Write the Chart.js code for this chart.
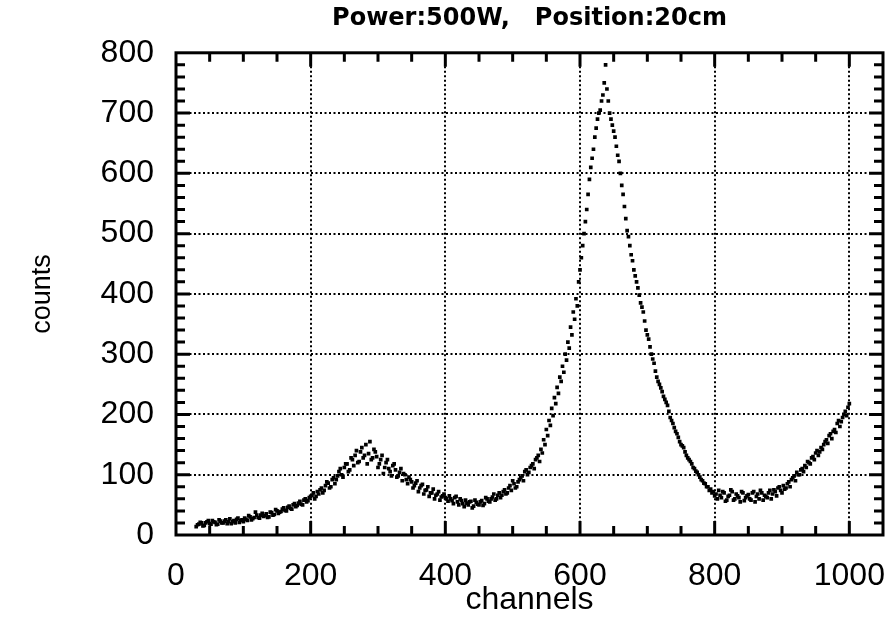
<!DOCTYPE html>
<html>
<head>
<meta charset="utf-8">
<title>Power:500W, Position:20cm</title>
<script src="https://cdn.jsdelivr.net/npm/chart.js@4/dist/chart.umd.min.js"></script>
<style>
    html, body { margin: 0; padding: 0; background: #fff; }
</style>
</head>
<body>
<canvas id="spectrumChart" width="887" height="619"></canvas>
<script>
// two interleaved readings: channels 30,34,... and 32,36,...
const firstChannel = 30;
const channelStep = 4;
const countsEven = [
    14, 18, 20, 16, 22, 19, 24, 21, 18, 23, 20, 25, 22, 19, 24, 26, 21, 25,
    28, 24, 30, 27, 38, 29, 33, 31, 35, 30, 37, 34, 40, 38, 43, 41, 46, 44, 50, 47, 53, 51, 58, 55, 62,
    66, 60, 72, 75, 70, 82, 86, 80, 95, 92, 105, 100, 112, 118, 108, 125, 132, 120, 138, 128, 150, 135, 125, 142, 130,
    118, 132, 112, 125, 105, 115, 108, 98, 110, 102, 92, 96, 88, 82, 90, 78, 84, 74, 80, 70, 76, 66, 72, 63, 68,
    60, 65, 57, 62, 55, 60, 52, 58, 50, 56, 48, 54, 50, 57, 52, 60, 55, 63, 58, 66, 62, 72, 68, 78, 74,
    85, 80, 92, 98, 105, 100, 112, 118, 125, 132, 142, 158, 175, 190, 210, 228, 245, 262, 280, 300, 320, 345, 370, 392, 420,
    460, 500, 540, 590, 625, 660, 690, 705, 730, 780, 720, 690, 670, 645, 620, 580, 545, 505, 480, 455, 430, 410, 385, 370, 340,
    325, 300, 285, 262, 250, 238, 225, 215, 195, 185, 172, 162, 150, 145, 132, 125, 118, 110, 104, 96, 90, 85, 80, 76, 72,
    68, 74, 62, 70, 58, 66, 72, 60, 65, 55, 70, 62, 67, 58, 72, 64, 60, 70, 66, 62, 74, 68, 72, 78, 74,
    82, 78, 88, 92, 98, 104, 100, 110, 115, 122, 118, 130, 136, 132, 145, 150, 158, 165, 160, 175, 185, 180, 195, 205, 212
];
const countsOdd = [
    17, 21, 15, 20, 24, 18, 22, 17, 25, 20, 23, 19, 27, 22, 20, 28, 24, 22,
    26, 32, 25, 29, 33, 28, 36, 32, 29, 38, 33, 42, 36, 39, 45, 40, 48, 43, 52, 49, 56, 50, 60, 57, 64,
    70, 64, 68, 78, 74, 88, 78, 92, 85, 98, 110, 96, 118, 105, 128, 115, 140, 122, 145, 132, 118, 155, 128, 138, 112,
    125, 102, 120, 110, 98, 118, 96, 104, 90, 100, 85, 92, 78, 86, 72, 82, 68, 75, 64, 70, 60, 68, 58, 65, 62,
    56, 60, 52, 64, 50, 57, 47, 53, 55, 45, 58, 51, 55, 49, 62, 56, 60, 68, 60, 70, 66, 75, 70, 82, 90,
    78, 88, 95, 90, 108, 104, 115, 110, 128, 122, 136, 150, 165, 182, 198, 218, 235, 255, 270, 290, 310, 332, 358, 380, 440,
    480, 520, 565, 610, 640, 675, 700, 720, 750, 740, 700, 680, 660, 630, 600, 565, 525, 495, 465, 440, 420, 398, 378, 355, 332,
    312, 292, 272, 255, 244, 230, 220, 205, 190, 178, 168, 155, 148, 138, 128, 122, 112, 106, 100, 92, 86, 80, 74, 70, 65,
    60, 66, 72, 56, 64, 75, 58, 68, 62, 72, 57, 65, 60, 70, 55, 68, 74, 58, 64, 70, 60, 75, 65, 80, 70,
    76, 85, 80, 95, 90, 100, 108, 105, 112, 120, 128, 125, 140, 138, 142, 155, 152, 168, 172, 170, 190, 188, 200, 198, 218
];
const xTickValues = [0, 200, 400, 600, 800, 1000];
const yTickValues = [0, 100, 200, 300, 400, 500, 600, 700, 800];

const points = [];
countsEven.forEach((c, i) => points.push({ x: firstChannel + i * channelStep, y: c }));
countsOdd.forEach((c, i) => points.push({ x: firstChannel + 2 + i * channelStep, y: c }));

const tickFont = { family: "'Liberation Sans', Arial, sans-serif", size: 32 };

// inward major/minor ticks and the heavy frame
const frameTicks = {
    id: 'frameTicks',
    afterDraw(chart) {
        const ctx = chart.ctx;
        const a = chart.chartArea;
        const x = chart.scales.x, y = chart.scales.y;
        ctx.save();
        ctx.strokeStyle = '#000';
        ctx.lineWidth = 3;
        ctx.beginPath();
        for (let v = 50; v < x.max; v += 50) {
            const px = x.getPixelForValue(v);
            const len = v % 200 === 0 ? 14 : 9;
            ctx.moveTo(px, a.bottom); ctx.lineTo(px, a.bottom - len);
            ctx.moveTo(px, a.top); ctx.lineTo(px, a.top + len);
        }
        for (let v = 20; v < y.max; v += 20) {
            const py = y.getPixelForValue(v);
            const len = v % 100 === 0 ? 14 : 9;
            ctx.moveTo(a.left, py); ctx.lineTo(a.left + len, py);
            ctx.moveTo(a.right, py); ctx.lineTo(a.right - len, py);
        }
        ctx.stroke();
        ctx.strokeRect(a.left, a.top, a.right - a.left, a.bottom - a.top);
        ctx.restore();
    }
};

const ctx = document.getElementById('spectrumChart').getContext('2d');
const spectrumChart = new Chart(ctx, {
    type: 'scatter',
    data: {
        datasets: [{
            data: points,
            pointStyle: 'rect',
            pointRadius: 2.6,
            pointBorderWidth: 0,
            backgroundColor: '#000',
            borderColor: '#000',
            showLine: false
        }]
    },
    options: {
        responsive: false,
        animation: false,
        layout: { padding: { left: 0, right: 3, top: 0, bottom: 0 } },
        plugins: {
            legend: { display: false },
            tooltip: { enabled: false },
            title: {
                display: true,
                text: 'Power:500W,   Position:20cm',
                fullSize: false,
                color: '#000',
                font: { family: "'DejaVu Sans', Arial, sans-serif", size: 24, weight: 'bold' },
                padding: { top: 4, bottom: 20 }
            }
        },
        scales: {
            x: {
                type: 'linear',
                min: 0,
                max: 1050,
                afterBuildTicks: (scale) => { scale.ticks = xTickValues.map(v => ({ value: v })); },
                afterFit: (scale) => { scale.height = 84; scale.paddingLeft = 0; scale.paddingRight = 0; },
                grid: { color: '#000', lineWidth: 2, drawTicks: false },
                border: { display: false, dash: [2, 2.5] },
                ticks: { color: '#000', font: tickFont, padding: 22, maxRotation: 0, callback: (v) => String(v) },
                title: {
                    display: true,
                    text: 'channels',
                    color: '#000',
                    font: { family: "'Liberation Sans', Arial, sans-serif", size: 32 },
                    padding: { top: 0, bottom: 0 }
                }
            },
            y: {
                type: 'linear',
                min: 0,
                max: 800,
                afterBuildTicks: (scale) => { scale.ticks = yTickValues.map(v => ({ value: v })); },
                afterFit: (scale) => { scale.width = 176; scale.paddingTop = 0; scale.paddingBottom = 0; },
                grid: { color: '#000', lineWidth: 2, drawTicks: false },
                border: { display: false, dash: [2, 2.5] },
                ticks: { color: '#000', font: tickFont, padding: 22, callback: (v) => String(v) },
                title: {
                    display: true,
                    text: 'counts',
                    color: '#000',
                    font: { family: "'Liberation Sans', Arial, sans-serif", size: 27 },
                    padding: { top: 26, bottom: 0 }
                }
            }
        }
    },
    plugins: [frameTicks]
});
</script>
</body>
</html>
